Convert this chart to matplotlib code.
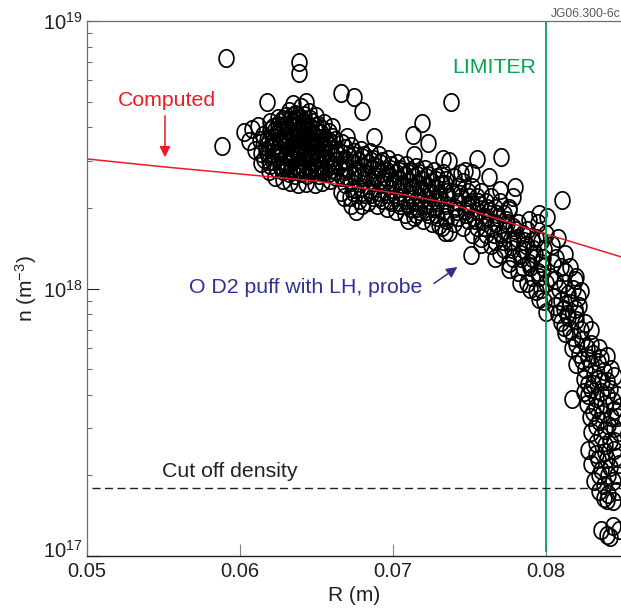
import matplotlib.pyplot as plt
import numpy as np
from matplotlib.ticker import FixedLocator, NullFormatter
from matplotlib.transforms import ScaledTranslation

plt.rcParams['font.family'] = ['Liberation Sans', 'DejaVu Sans']
plt.rcParams['mathtext.fontset'] = 'custom'
plt.rcParams['mathtext.rm'] = 'Liberation Sans'
plt.rcParams['mathtext.it'] = 'Liberation Sans:italic'
plt.rcParams['mathtext.bf'] = 'Liberation Sans:bold'

# probe data, (R in mm, n in 1e18 m^-3)
outliers = [(59.1, 7.3), (63.9, 7.0), (63.9, 6.4), (61.8, 5.0), (66.6, 5.4), (67.5, 5.2),
            (68.0, 4.6), (73.8, 5.0), (58.8, 3.4), (71.9, 4.15), (71.3, 3.75), (72.3, 3.5),
            (73.3, 3.05), (75.5, 3.05), (77.1, 3.1), (78.0, 2.4), (77.85, 2.2), (81.1, 2.15),
            (75.1, 1.33), (81.7, 0.385), (67.0, 3.7), (68.8, 3.7), (74.7, 2.75), (71.4, 3.16)]

blob_edge = [(60.3, 3.85), (60.8, 3.95), (61.2, 4.05), (60.6, 3.55), (61.0, 3.3), (61.4, 2.95),
             (61.9, 2.75), (62.5, 4.35), (63.2, 4.6), (63.5, 4.9), (64.0, 4.75), (64.5, 4.55),
             (65.0, 4.4), (65.5, 4.15), (66.0, 4.0), (62.0, 4.2), (64.3, 5.0),
             (62.3, 2.62), (62.8, 2.55), (63.3, 2.5), (63.8, 2.45), (64.3, 2.48), (64.9, 2.45),
             (65.4, 2.5), (65.9, 2.55), (66.3, 2.6)]

blob_core = [(61.6, 3.05), (61.7, 3.4), (61.5, 3.75),
             (62.0, 2.9), (62.1, 3.2), (61.9, 3.55), (62.0, 3.9),
             (62.4, 2.8), (62.5, 3.1), (62.3, 3.45), (62.4, 3.8), (62.5, 4.1),
             (62.8, 2.75), (62.9, 3.0), (62.7, 3.3), (62.8, 3.65), (62.9, 4.0), (62.8, 4.3),
             (63.2, 2.7), (63.1, 2.95), (63.3, 3.25), (63.2, 3.55), (63.1, 3.9), (63.3, 4.25),
             (63.6, 2.65), (63.7, 2.9), (63.5, 3.2), (63.6, 3.5), (63.7, 3.85), (63.5, 4.2),
             (63.6, 4.5), (64.0, 2.7), (64.1, 3.0), (63.9, 3.3), (64.0, 3.6), (64.1, 3.95),
             (63.9, 4.3), (64.4, 2.65), (64.5, 2.9), (64.3, 3.2), (64.4, 3.5), (64.5, 3.8),
             (64.3, 4.15), (64.8, 2.7), (64.9, 3.0), (64.7, 3.3), (64.8, 3.6), (64.9, 3.9),
             (64.7, 4.2), (65.2, 2.65), (65.3, 2.9), (65.1, 3.2), (65.2, 3.5), (65.3, 3.8),
             (65.6, 2.75), (65.7, 3.05), (65.5, 3.35), (65.6, 3.65),
             (66.0, 2.8), (66.1, 3.1), (65.9, 3.4), (66.0, 3.7)]

blob_fill = [(61.8, 3.2), (61.8, 3.6), (61.3, 3.6), (61.4, 3.2),
             (62.2, 3.0), (62.2, 3.35), (62.2, 3.7), (62.2, 4.0),
             (62.6, 2.9), (62.6, 3.2), (62.6, 3.55), (62.6, 3.9), (62.6, 4.2),
             (63.0, 2.85), (63.0, 3.15), (63.0, 3.45), (63.0, 3.75), (63.0, 4.1), (63.0, 4.4),
             (63.4, 2.8), (63.4, 3.05), (63.4, 3.35), (63.4, 3.7), (63.4, 4.05), (63.4, 4.4),
             (63.8, 2.8), (63.8, 3.1), (63.8, 3.4), (63.8, 3.7), (63.8, 4.05), (63.8, 4.4),
             (64.2, 2.8), (64.2, 3.1), (64.2, 3.4), (64.2, 3.75), (64.2, 4.1), (64.2, 4.45),
             (64.6, 2.8), (64.6, 3.1), (64.6, 3.4), (64.6, 3.7), (64.6, 4.0), (64.6, 4.3),
             (65.0, 2.8), (65.0, 3.1), (65.0, 3.4), (65.0, 3.7), (65.0, 4.05),
             (65.4, 2.8), (65.4, 3.05), (65.4, 3.35), (65.4, 3.65), (65.4, 3.95),
             (65.8, 2.7), (65.8, 2.95), (65.8, 3.25), (65.8, 3.55), (65.8, 3.85),
             (66.2, 2.75), (66.2, 3.0), (66.2, 3.3), (66.2, 3.6)]

blob_fill2 = [(61.9, 3.0), (61.7, 3.3), (62.1, 3.5), (62.3, 3.9),
              (62.7, 2.85), (62.5, 3.35), (62.9, 3.6), (62.7, 4.05),
              (63.1, 2.8), (63.3, 3.1), (63.1, 3.4), (63.3, 3.8), (63.2, 4.1),
              (63.7, 2.75), (63.5, 3.05), (63.7, 3.3), (63.5, 3.65), (63.7, 4.0), (63.6, 4.3),
              (64.1, 2.85), (63.9, 3.15), (64.1, 3.45), (63.9, 3.8), (64.1, 4.2),
              (64.5, 2.75), (64.3, 3.05), (64.5, 3.35), (64.3, 3.65), (64.5, 4.05),
              (64.9, 2.85), (64.7, 3.15), (64.9, 3.5), (64.7, 3.8), (65.1, 4.1),
              (65.3, 2.75), (65.1, 3.05), (65.3, 3.35), (65.1, 3.65),
              (65.7, 2.85), (65.5, 3.2), (65.7, 3.5), (66.1, 2.9), (66.3, 3.2)]

band_mid = [(66.6, 2.3), (66.7, 2.6), (66.5, 2.9), (66.6, 3.2), (66.7, 3.5),
            (67.2, 2.2), (67.3, 2.5), (67.1, 2.8), (67.2, 3.1), (67.3, 3.4),
            (67.8, 2.15), (67.9, 2.4), (67.7, 2.7), (67.8, 3.0), (67.9, 3.3),
            (68.4, 2.1), (68.5, 2.35), (68.3, 2.65), (68.4, 2.95), (68.5, 3.25),
            (69.0, 2.05), (69.1, 2.3), (68.9, 2.6), (69.0, 2.85), (69.1, 3.15),
            (69.6, 2.0), (69.7, 2.25), (69.5, 2.5), (69.6, 2.75), (69.7, 3.05),
            (70.2, 1.95), (70.3, 2.2), (70.1, 2.45), (70.2, 2.7), (70.3, 2.95),
            (70.8, 1.9), (70.9, 2.15), (70.7, 2.4), (70.8, 2.65), (70.9, 2.9),
            (71.4, 1.85), (71.5, 2.1), (71.3, 2.35), (71.4, 2.6), (71.5, 2.85),
            (72.0, 1.8), (72.1, 2.05), (71.9, 2.3), (72.0, 2.55), (72.1, 2.8),
            (72.6, 1.75), (72.7, 2.0), (72.5, 2.25), (72.6, 2.5), (72.7, 2.75),
            (73.2, 1.7), (73.3, 1.95), (73.1, 2.2), (73.2, 2.45), (73.3, 2.7),
            (67.3, 2.05), (67.6, 1.95), (68.0, 2.05), (71.0, 1.8), (71.5, 1.9),
            (73.0, 1.72), (73.4, 1.62)]

band_fill = [(66.9, 2.45), (66.9, 2.75), (66.9, 3.05), (66.9, 3.35),
             (67.5, 2.35), (67.5, 2.65), (67.5, 2.95), (67.5, 3.25),
             (68.1, 2.25), (68.1, 2.55), (68.1, 2.85), (68.1, 3.15),
             (68.7, 2.2), (68.7, 2.5), (68.7, 2.8), (68.7, 3.05),
             (69.3, 2.15), (69.3, 2.45), (69.3, 2.7), (69.3, 3.0),
             (69.9, 2.1), (69.9, 2.35), (69.9, 2.6), (69.9, 2.9),
             (70.5, 2.05), (70.5, 2.3), (70.5, 2.55), (70.5, 2.8),
             (71.1, 2.0), (71.1, 2.25), (71.1, 2.5), (71.1, 2.75),
             (71.7, 1.95), (71.7, 2.2), (71.7, 2.45), (71.7, 2.7),
             (72.3, 1.9), (72.3, 2.15), (72.3, 2.4), (72.3, 2.65),
             (72.9, 1.85), (72.9, 2.1), (72.9, 2.35), (72.9, 2.6),
             (73.5, 1.8), (73.5, 2.05), (73.5, 2.3), (73.5, 2.55)]

band_fill2 = [(66.8, 2.2), (67.0, 2.6), (66.8, 3.0), (67.4, 2.3), (67.6, 2.75), (67.4, 3.15),
              (68.0, 2.3), (68.2, 2.7), (68.0, 3.1), (68.6, 2.25), (68.8, 2.65), (68.6, 3.0),
              (69.2, 2.2), (69.4, 2.6), (69.2, 2.95), (69.8, 2.15), (70.0, 2.5), (69.8, 2.8),
              (70.4, 2.1), (70.6, 2.45), (70.4, 2.75), (71.0, 2.05), (71.2, 2.4), (71.0, 2.7),
              (71.6, 2.0), (71.8, 2.35), (71.6, 2.65), (72.2, 1.95), (72.4, 2.3), (72.2, 2.6),
              (72.8, 1.9), (73.0, 2.25), (72.8, 2.55), (73.4, 1.85), (73.6, 2.2), (73.4, 2.45),
              (74.2, 1.95), (74.4, 2.25), (74.8, 1.9), (75.0, 2.2), (75.4, 1.8), (75.6, 2.1),
              (76.0, 1.7), (76.2, 2.0), (76.6, 1.6), (76.8, 1.9), (77.2, 1.5), (77.4, 1.8),
              (77.8, 1.4), (78.0, 1.65), (78.4, 1.3), (78.6, 1.5), (79.0, 1.2), (79.2, 1.4),
              (79.6, 1.1), (79.8, 1.3)]

band_edge = [(73.7, 3.0), (74.5, 2.7), (75.2, 2.7), (76.3, 2.6), (77.0, 2.33), (77.6, 1.97),
             (78.9, 1.81), (79.6, 1.9), (80.1, 1.85),
             (73.7, 1.63), (75.8, 1.47), (76.7, 1.3), (77.6, 1.18), (78.3, 1.05), (79.0, 1.0),
             (79.6, 0.91), (80.0, 0.82)]

band_core = [(74.0, 1.75), (74.1, 2.0), (73.9, 2.3), (74.0, 2.6),
             (74.6, 1.7), (74.7, 1.95), (74.5, 2.2), (74.6, 2.5),
             (75.2, 1.6), (75.3, 1.85), (75.1, 2.1), (75.2, 2.4),
             (75.8, 1.55), (75.9, 1.8), (75.7, 2.05), (75.8, 2.3),
             (76.4, 1.45), (76.5, 1.7), (76.3, 1.95), (76.4, 2.2),
             (77.0, 1.35), (77.1, 1.6), (76.9, 1.85), (77.0, 2.1),
             (77.6, 1.25), (77.7, 1.5), (77.5, 1.75), (77.6, 2.0),
             (78.2, 1.15), (78.3, 1.35), (78.1, 1.55), (78.2, 1.75),
             (78.8, 1.05), (78.9, 1.25), (78.7, 1.45), (78.8, 1.65),
             (79.4, 0.98), (79.5, 1.15), (79.3, 1.35), (79.4, 1.55), (79.5, 1.75),
             (79.9, 0.9), (80.0, 1.05), (79.8, 1.2), (79.9, 1.4), (80.0, 1.6)]

band_core_fill = [(74.3, 1.85), (74.3, 2.1), (74.3, 2.4), (74.9, 1.8), (74.9, 2.05), (74.9, 2.3),
                  (75.5, 1.7), (75.5, 1.95), (75.5, 2.2), (76.1, 1.6), (76.1, 1.85), (76.1, 2.1),
                  (76.7, 1.5), (76.7, 1.75), (76.7, 2.0), (77.3, 1.4), (77.3, 1.65), (77.3, 1.9),
                  (77.9, 1.3), (77.9, 1.5), (77.9, 1.7), (78.5, 1.2), (78.5, 1.4), (78.5, 1.6),
                  (79.1, 1.1), (79.1, 1.3), (79.1, 1.5), (79.7, 1.0), (79.7, 1.25), (79.7, 1.5)]

edge_top = [(80.4, 1.45), (80.8, 1.55), (81.3, 1.35), (80.5, 1.25), (81.0, 1.2), (81.6, 1.2),
            (82.0, 1.1), (80.6, 1.08), (81.2, 1.05), (81.8, 1.0), (82.3, 0.98), (80.5, 0.93),
            (81.0, 0.9), (81.6, 0.88), (82.2, 0.86), (80.8, 0.8), (81.4, 0.8), (82.0, 0.8)]

edge_drop = [(81.0, 0.75), (81.5, 0.78), (82.0, 0.76), (82.6, 0.74), (83.0, 0.7), (81.3, 0.68),
             (81.8, 0.66), (82.4, 0.64), (83.0, 0.62), (83.5, 0.6), (81.7, 0.6), (82.2, 0.57),
             (82.8, 0.55), (83.4, 0.53), (84.0, 0.56), (82.0, 0.52), (82.6, 0.5), (83.2, 0.48),
             (83.8, 0.49), (84.3, 0.5), (82.5, 0.46), (83.1, 0.44), (83.7, 0.45)]

edge_tail = [(82.5, 0.41), (83.0, 0.42), (83.6, 0.41), (84.2, 0.42), (84.7, 0.4), (82.7, 0.37),
             (83.3, 0.36), (83.9, 0.37), (84.5, 0.35), (82.9, 0.33), (83.5, 0.32), (84.1, 0.31),
             (84.7, 0.33), (83.0, 0.29), (83.6, 0.28), (84.2, 0.27), (84.8, 0.29),
             (82.8, 0.25), (83.3, 0.24), (83.9, 0.245), (84.5, 0.25), (83.0, 0.22), (83.6, 0.21),
             (84.2, 0.215), (84.8, 0.22), (83.2, 0.19), (83.8, 0.185), (84.4, 0.19), (83.5, 0.175),
             (84.1, 0.17), (84.7, 0.175), (84.0, 0.162),
             (83.6, 0.125), (84.0, 0.12), (84.4, 0.13), (84.2, 0.118), (84.8, 0.125)]

edge_fill = [(80.3, 1.1), (80.7, 1.3), (81.3, 1.15), (81.9, 1.08), (80.9, 1.0), (81.5, 0.95),
             (82.1, 0.93), (80.6, 0.86), (81.2, 0.84), (81.9, 0.84), (81.2, 0.72), (81.6, 0.7),
             (82.3, 0.7), (82.0, 0.62), (82.7, 0.6), (82.4, 0.54), (83.1, 0.57), (83.0, 0.52),
             (83.6, 0.55), (82.8, 0.44), (83.4, 0.46), (84.0, 0.45), (84.5, 0.47), (82.8, 0.4),
             (83.3, 0.39), (84.0, 0.4), (84.4, 0.38), (83.1, 0.345), (83.7, 0.34), (84.3, 0.33),
             (84.9, 0.36), (83.3, 0.305), (83.9, 0.295), (84.5, 0.3), (83.3, 0.265), (83.9, 0.26),
             (84.5, 0.27), (83.4, 0.23), (84.0, 0.23), (84.6, 0.235), (83.5, 0.2), (84.1, 0.2),
             (84.7, 0.2), (84.4, 0.16), (83.8, 0.165)]

# computed profile
calc_r = [0.05, 0.055, 0.06, 0.065, 0.07, 0.0736, 0.077, 0.08, 0.085]
calc_n = [3.05e18, 2.85e18, 2.68e18, 2.52e18, 2.28e18, 2.09e18, 1.81e18, 1.60e18, 1.31e18]

cutoff = 1.8e17
limiter = 0.08

pts = np.array(outliers + blob_edge + blob_core + blob_fill + blob_fill2 + band_mid + band_fill
               + band_fill2 + band_edge + band_core + band_core_fill + edge_top + edge_drop
               + edge_tail + edge_fill)
R = pts[:, 0] / 1000
n = pts[:, 1] * 1e18

t = np.linspace(0, 2 * np.pi, 60)
ellipse = np.column_stack([0.85 * np.cos(t), np.sin(t)])

dark = '#231f20'
fig = plt.figure(figsize=(6.21, 6.15), dpi=100)
ax = fig.add_axes([87 / 621, 59 / 615, 535 / 621, 535 / 615])

ax.plot(R, n, linestyle='none', marker=ellipse, markersize=12.5, markerfacecolor='none',
        markeredgecolor='black', markeredgewidth=1.25, zorder=2)
ax.plot(calc_r, calc_n, color='#ed1c24', lw=1.1, zorder=3)
ax.axvline(limiter, ymin=0.01, ymax=1, color='#00a651', lw=1.3, zorder=3)
ax.plot([0.0503, 0.086], [cutoff, cutoff], color=dark, lw=1.0, dashes=[5.8, 3.2], zorder=3)

ax.set_yscale('log')
ax.set_xlim(0.05, 0.085)
ax.set_ylim(1e17, 1e19)
ax.xaxis.set_major_locator(FixedLocator([0.05, 0.06, 0.07, 0.08]))
ax.set_xticklabels(['0.05', '0.06', '0.07', '0.08'])
ax.yaxis.set_major_locator(FixedLocator([1e17, 1e18, 1e19]))
ax.yaxis.set_minor_formatter(NullFormatter())

ax.tick_params(axis='x', which='major', direction='in', length=8.6, width=0.8, color='#808285',
               labelsize=14.5, pad=4, labelcolor=dark, top=False)
ax.tick_params(axis='x', which='minor', bottom=False, top=False)
ax.tick_params(axis='y', which='major', direction='in', length=8.6, width=0.8, color=dark,
               labelsize=14.5, pad=3, labelcolor=dark, right=False)
ax.tick_params(axis='y', which='minor', direction='in', length=3.6, width=0.8, color='#6d6e71',
               right=False)

ax.spines['right'].set_visible(False)
ax.spines['top'].set_color('#6d6e71')
ax.spines['top'].set_linewidth(0.9)
ax.spines['left'].set_color('#6d6e71')
ax.spines['left'].set_linewidth(0.9)
ax.spines['bottom'].set_color(dark)
ax.spines['bottom'].set_linewidth(1.0)

ax.set_xlabel('R (m)', fontsize=15, color=dark, labelpad=4)
ax.set_ylabel('n (m$^{-3}$)', fontsize=15, color=dark, labelpad=3)

# lift the bottom y label a little so it clears 0.05
fig.canvas.draw()
low = ax.yaxis.get_major_ticks()[0].label1
low.set_transform(low.get_transform() + ScaledTranslation(0, 5 / 72, fig.dpi_scale_trans))

# annotations
ax.text(0.05203, 4.81e18, 'Computed', color='#ed1c24', fontsize=15.3, ha='left', va='baseline')
ax.annotate('', xy=(0.0551, 3.02e18), xytext=(0.0551, 4.53e18),
            arrowprops=dict(arrowstyle='-|>', color='#ed1c24', lw=1.1, mutation_scale=16))
ax.text(0.07941, 6.39e18, 'LIMITER', color='#00a651', fontsize=15.3, ha='right', va='baseline')
ax.text(0.07196, 0.962e18, 'O D2 puff with LH, probe', color='#2e3192', fontsize=15.3,
        ha='right', va='baseline')
ax.annotate('', xy=(0.07438, 1.22e18), xytext=(0.07255, 1.03e18),
            arrowprops=dict(arrowstyle='-|>', color='#2e3192', lw=1.1, mutation_scale=16))
ax.text(0.0549, 0.197e18, 'Cut off density', color=dark, fontsize=15.3, ha='left', va='baseline')

fig.text(620 / 621, 1 - 17 / 615, 'JG06.300-6c', fontsize=8.7, color='#58595b', ha='right',
         va='baseline')

fig.savefig('out.png', dpi=100)
